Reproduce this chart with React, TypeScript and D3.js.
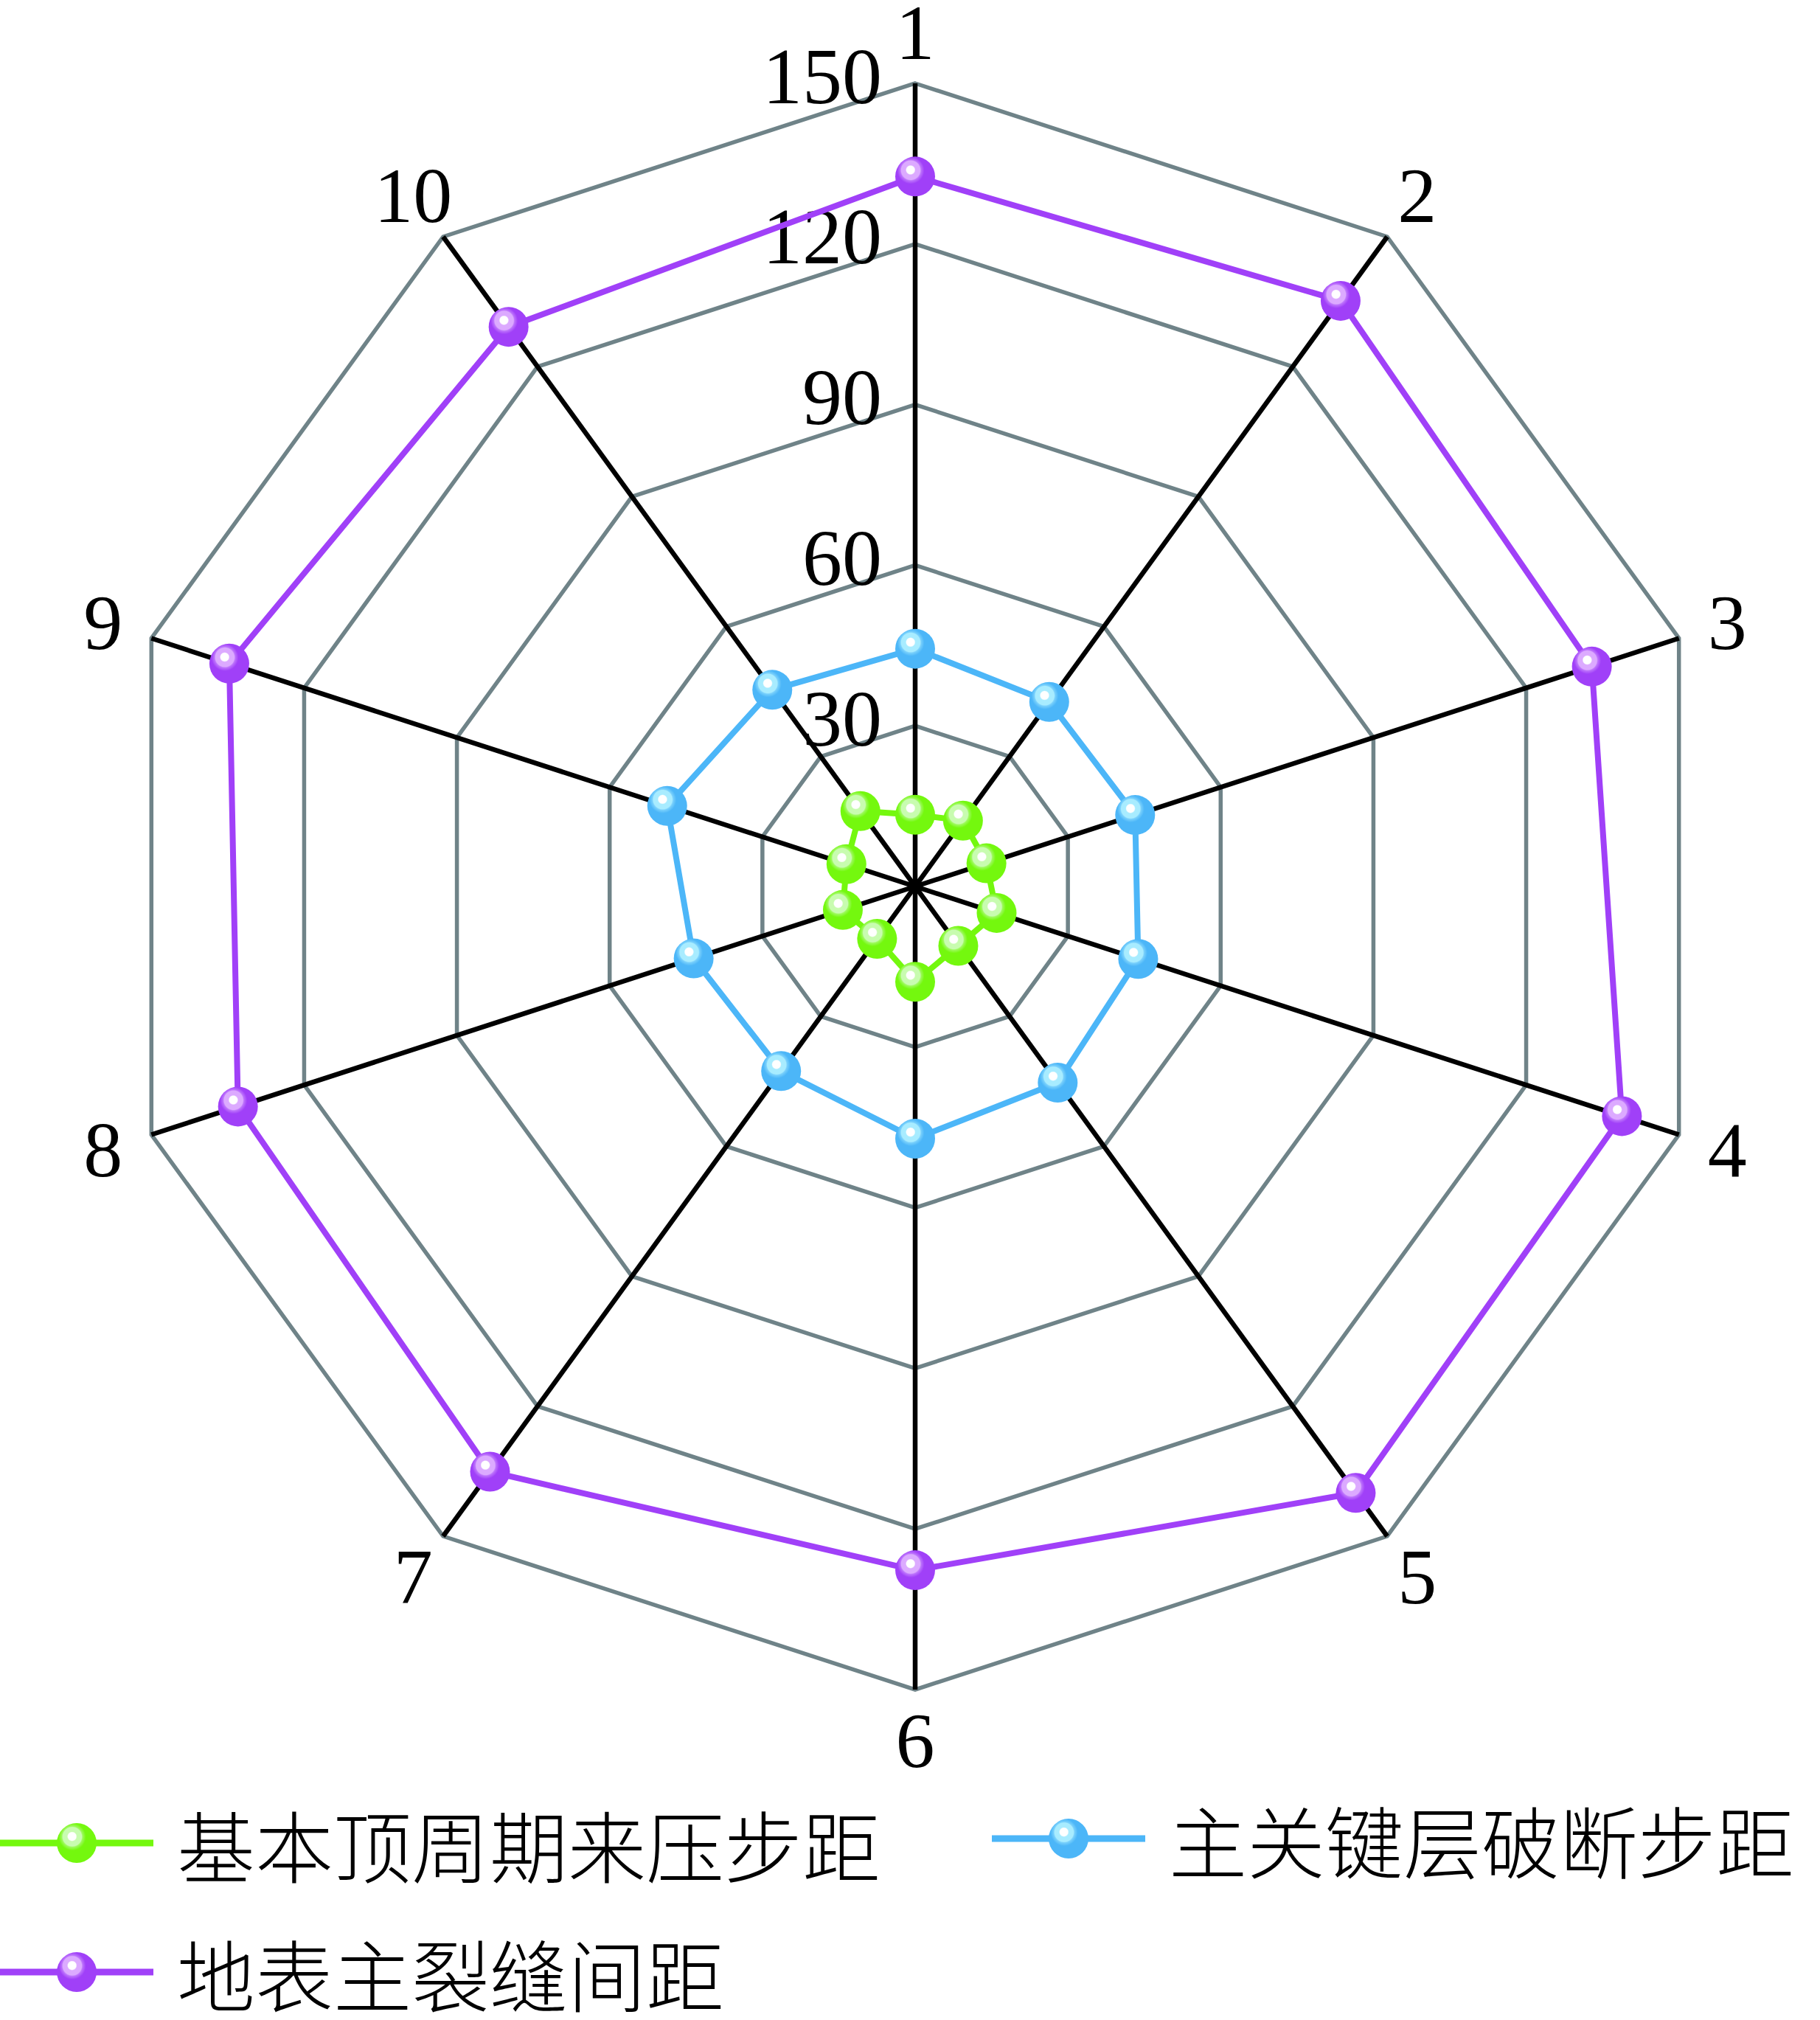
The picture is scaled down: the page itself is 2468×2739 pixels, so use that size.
import React, { useEffect, useRef } from 'react';
import * as d3 from 'd3';

const W = 2468;
const H = 2739;

const axisLabels = ['1', '2', '3', '4', '5', '6', '7', '8', '9', '10'];
const ticks = [30, 60, 90, 120, 150];

// 基本顶周期来压步距
const basicRoof = [13.4, 15.2, 14.0, 16.0, 13.7, 17.8, 12.1, 14.2, 13.5, 17.4];
// 主关键层破断步距
const keyStratum = [44.4, 42.6, 43.2, 43.8, 45.3, 47.1, 42.6, 43.5, 48.7, 45.4];
// 地表主裂缝间距
const surfaceCrack = [132.6, 135.2, 132.9, 138.8, 140.0, 127.7, 135.1, 133.0, 134.7, 129.2];

const seriesNames = ['基本顶周期来压步距', '主关键层破断步距', '地表主裂缝间距'];
const seriesColors = ['#74f80e', '#4cb6f8', '#a040f8'];
const seriesLight = ['#c8fcb0', '#a8ecff', '#dcaaff'];

const App: React.FC = () => {
  const svgRef = useRef<SVGSVGElement>(null);

  useEffect(() => {
    if (!svgRef.current) return;
    const svg = d3.select(svgRef.current);
    svg.selectAll('*').remove();

    const cx = 1241;
    const cy = 1202;
    const R = 1089;

    const r = d3.scaleLinear().domain([0, 150]).range([0, R]);
    const angle = d3.scaleLinear().domain([0, axisLabels.length]).range([0, 2 * Math.PI]);
    const pt = (i: number, v: number): [number, number] => [
      cx + r(v) * Math.sin(angle(i)),
      cy - r(v) * Math.cos(angle(i)),
    ];

    const defs = svg.append('defs');
    seriesColors.forEach((c, k) => {
      const g = defs.append('radialGradient')
        .attr('id', `ball${k}`)
        .attr('cx', 0.4).attr('cy', 0.36).attr('r', 0.62)
        .attr('fx', 0.38).attr('fy', 0.33);
      g.append('stop').attr('offset', 0).attr('stop-color', '#ffffff');
      g.append('stop').attr('offset', 0.16).attr('stop-color', '#ffffff');
      g.append('stop').attr('offset', 0.2).attr('stop-color', seriesLight[k]);
      g.append('stop').attr('offset', 0.38).attr('stop-color', seriesLight[k]);
      g.append('stop').attr('offset', 0.42).attr('stop-color', d3.interpolateRgb(seriesLight[k], c)(0.5));
      g.append('stop').attr('offset', 0.55).attr('stop-color', c);
      g.append('stop').attr('offset', 1).attr('stop-color', c);
    });

    const root = svg.append('g');
    const closed = d3.line().curve(d3.curveLinearClosed);

    // grid rings
    ticks.forEach(t => {
      const pts = axisLabels.map((_, i) => pt(i, t));
      root.append('path')
        .attr('d', closed(pts))
        .attr('fill', 'none')
        .attr('stroke', '#6f8388')
        .attr('stroke-width', 5.5);
    });

    // spokes
    axisLabels.forEach((_, i) => {
      const [x2, y2] = pt(i, 150);
      root.append('line')
        .attr('x1', cx).attr('y1', cy)
        .attr('x2', x2).attr('y2', y2)
        .attr('stroke', '#000')
        .attr('stroke-width', 6.5);
    });

    // tick labels
    ticks.forEach(t => {
      root.append('text')
        .attr('x', cx - 45)
        .attr('y', cy - r(t) - 10)
        .attr('text-anchor', 'end')
        .attr('dominant-baseline', 'central')
        .style('font-family', '"Liberation Serif", "Times New Roman", serif')
        .style('font-size', '108px')
        .text(String(t));
    });

    // axis labels
    axisLabels.forEach((lab, i) => {
      const [x, y] = pt(i, r.invert(1158));
      root.append('text')
        .attr('x', x)
        .attr('y', y)
        .attr('text-anchor', 'middle')
        .attr('dominant-baseline', 'central')
        .style('font-family', '"Liberation Serif", "Times New Roman", serif')
        .style('font-size', '106px')
        .text(lab);
    });

    // series, purple first so green sits on top
    const allSeries = [basicRoof, keyStratum, surfaceCrack];
    [2, 1, 0].forEach(k => {
      const pts = allSeries[k].map((v, i) => pt(i, v));
      root.append('path')
        .attr('d', closed(pts))
        .attr('fill', 'none')
        .attr('stroke', seriesColors[k])
        .attr('stroke-width', 8);
      root.selectAll(`.dot${k}`)
        .data(pts)
        .enter()
        .append('circle')
        .attr('cx', d => d[0])
        .attr('cy', d => d[1])
        .attr('r', 27)
        .attr('fill', `url(#ball${k})`);
    });

    // legend
    const legendPos = [
      { x: 0, y: 2499 },
      { x: 1345, y: 2493 },
      { x: 0, y: 2674 },
    ];
    seriesNames.forEach((name, k) => {
      const { x, y } = legendPos[k];
      const lg = root.append('g').attr('transform', `translate(${x},${y})`);
      lg.append('line')
        .attr('x1', 0).attr('x2', 208)
        .attr('y1', 0).attr('y2', 0)
        .attr('stroke', seriesColors[k])
        .attr('stroke-width', 9);
      lg.append('circle')
        .attr('cx', 104).attr('cy', 0).attr('r', 27)
        .attr('fill', `url(#ball${k})`);
      lg.append('text')
        .attr('x', 240)
        .attr('y', 0)
        .attr('dominant-baseline', 'central')
        .style('font-family', '"Noto Sans CJK SC", sans-serif')
        .style('font-size', '106px')
        .style('font-weight', 300)
        .text(name);
    });
  }, []);

  return (
    <svg
      ref={svgRef}
      width={W}
      height={H}
      style={{ position: 'absolute', left: 0, top: 0, background: '#fff' }}
    />
  );
};

export default App;
